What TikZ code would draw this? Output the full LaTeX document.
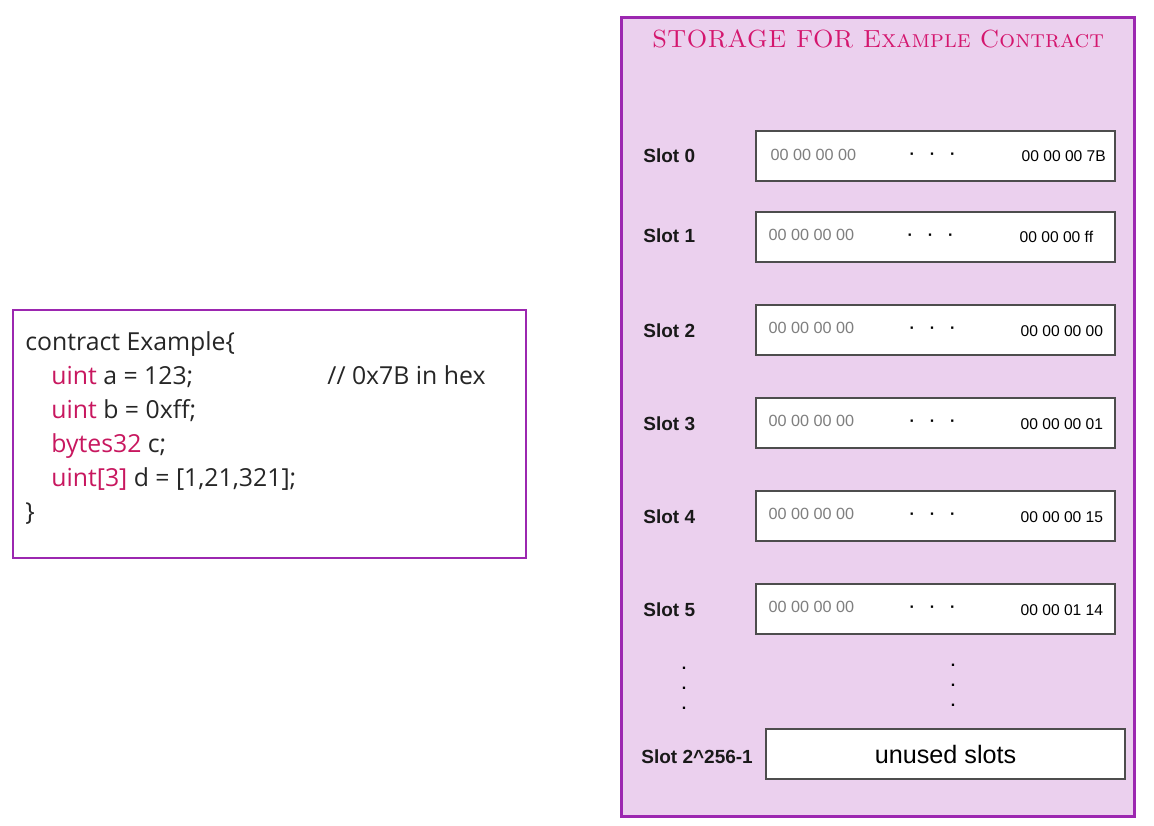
\documentclass[tikz,border=0pt]{standalone}
\usepackage{fontspec}
\usepackage{xcolor}
\usepackage{tikz}
\usetikzlibrary{positioning}
\newfontfamily\codefont{Open Sans}
\newfontfamily\slotfont{Liberation Sans}
\definecolor{storagefill}{HTML}{EBD0EE}
\definecolor{boxpurple}{HTML}{9C27B0}
\definecolor{titlepink}{HTML}{D4166E}
\definecolor{keypink}{HTML}{C8175F}
\definecolor{hexgray}{HTML}{7F7F7F}
\definecolor{slotedge}{HTML}{4D4D4D}
\tikzset{
  storagebox/.style={
    draw=boxpurple,
    fill=storagefill,
    line width=1.5pt,
    minimum width=256.5pt,
    minimum height=399.5pt
  },
  codebox/.style={
    draw=boxpurple,
    fill=white,
    line width=1.25pt,
    minimum width=256.5pt,
    minimum height=124pt
  },
  codeline/.style={
    anchor=base west,
    inner sep=0pt,
    text=black!85,
    font=\codefont\fontsize{12.4}{15}\selectfont
  },
  slotbox/.style={
    draw=slotedge,
    fill=white,
    line width=0.75pt,
    minimum width=179.5pt,
    minimum height=25pt,
    inner sep=0pt
  },
  slotlabel/.style={
    anchor=west,
    inner sep=0pt,
    text=black!90,
    font=\slotfont\bfseries\fontsize{9.5}{11}\selectfont
  },
  hexlow/.style={
    anchor=west,
    inner sep=0pt,
    text=hexgray,
    font=\slotfont\fontsize{8.1}{9}\selectfont
  },
  hexhigh/.style={
    anchor=west,
    inner sep=0pt,
    font=\slotfont\fontsize{7.8}{9}\selectfont
  },
  hexdots/.style={
    inner sep=0pt,
    font=\slotfont\bfseries\fontsize{8}{9}\selectfont
  },
  slotvdots/.style={
    inner sep=0pt,
    align=center,
    font=\slotfont\bfseries\fontsize{8}{10}\selectfont
  }
}
\newcommand{\kw}[1]{\textcolor{keypink}{#1}}
\newcommand{\dotrow}{\textperiodcentered\hspace{7.5pt}\textperiodcentered\hspace{7.5pt}\textperiodcentered}

\begin{document}
\begin{tikzpicture}[x=0.5pt, y=-0.5pt]
    \useasboundingbox (0,0) rectangle (1154,825);

    % storage side
    \node[storagebox] (storage) at (877.5,416.5) {};
    \node[anchor=base, inner sep=0pt, text=titlepink, font=\scshape\fontsize{12.4}{15}\selectfont] (title) at (878,47) {STORAGE FOR Example Contract};

    \node[slotbox] (slot0) at (935.5,156) {};
    \node[slotbox] (slot1) at (935.5,237) {};
    \node[slotbox] (slot2) at (935.5,330) {};
    \node[slotbox] (slot3) at (935.5,423) {};
    \node[slotbox] (slot4) at (935.5,516) {};
    \node[slotbox] (slot5) at (935.5,609) {};
    \node[slotbox, font=\slotfont\fontsize{12.6}{14}\selectfont] (unused) at (945.5,754) {unused slots};

    \node[slotlabel] (lab0) at (643,156) {Slot 0};
    \node[slotlabel] (lab1) at (643,236) {Slot 1};
    \node[slotlabel] (lab2) at (643,331) {Slot 2};
    \node[slotlabel] (lab3) at (643,424) {Slot 3};
    \node[slotlabel] (lab4) at (643,517) {Slot 4};
    \node[slotlabel] (lab5) at (643,610) {Slot 5};
    \node[slotlabel] (labn) at (641,757) {Slot 2\^{}256-1};

    \node[hexlow] (low0) at ([xshift=7.5pt,yshift=0.5pt]slot0.west) {00 00 00 00};
    \node[hexlow] (low1) at ([xshift=6.5pt,yshift=1pt]slot1.west) {00 00 00 00};
    \node[hexlow] (low2) at ([xshift=6.5pt,yshift=1pt]slot2.west) {00 00 00 00};
    \node[hexlow] (low3) at ([xshift=6.5pt,yshift=1pt]slot3.west) {00 00 00 00};
    \node[hexlow] (low4) at ([xshift=6.5pt,yshift=1pt]slot4.west) {00 00 00 00};
    \node[hexlow] (low5) at ([xshift=6.5pt,yshift=1pt]slot5.west) {00 00 00 00};

    \node[hexdots] (dots0) at ([xshift=-1.5pt]slot0.center) {\dotrow};
    \node[hexdots] (dots1) at ([xshift=-2.5pt]slot1.center) {\dotrow};
    \node[hexdots] (dots2) at ([xshift=-1.5pt]slot2.center) {\dotrow};
    \node[hexdots] (dots3) at ([xshift=-1.5pt]slot3.center) {\dotrow};
    \node[hexdots] (dots4) at ([xshift=-1.5pt]slot4.center) {\dotrow};
    \node[hexdots] (dots5) at ([xshift=-1.5pt]slot5.center) {\dotrow};

    \node[hexhigh] (high0) at ([xshift=133pt]slot0.west) {00 00 00 7B};
    \node[hexhigh] (high1) at ([xshift=132pt]slot1.west) {00 00 00 ff};
    \node[hexhigh] (high2) at ([xshift=132.5pt,yshift=-0.5pt]slot2.west) {00 00 00 00};
    \node[hexhigh] (high3) at ([xshift=132.5pt,yshift=-0.5pt]slot3.west) {00 00 00 01};
    \node[hexhigh] (high4) at ([xshift=132.5pt,yshift=-0.5pt]slot4.west) {00 00 00 15};
    \node[hexhigh] (high5) at ([xshift=132.5pt,yshift=-0.5pt]slot5.west) {00 00 01 14};

    \node[slotvdots] (vdotsl) at (684,688) {.\\.\\.};
    \node[slotvdots] (vdotsr) at (953,685) {.\\.\\.};

    % contract source
    \node[codebox] (code) at (269.5,434) {};
    \node[codeline] (line1) at (25,350) {contract Example\{};
    \node[codeline] (line2) at (51,384) {\kw{uint} a = 123;};
    \node[codeline] (comment) at (327,384) {// 0x7B in hex};
    \node[codeline] (line3) at (51,418) {\kw{uint} b = 0xff;};
    \node[codeline] (line4) at (51,452) {\kw{bytes32} c;};
    \node[codeline] (line5) at (51,486) {\kw{uint[3]} d = [1,21,321];};
    \node[codeline] (line6) at (25,520) {\}};
\end{tikzpicture}
\end{document}
